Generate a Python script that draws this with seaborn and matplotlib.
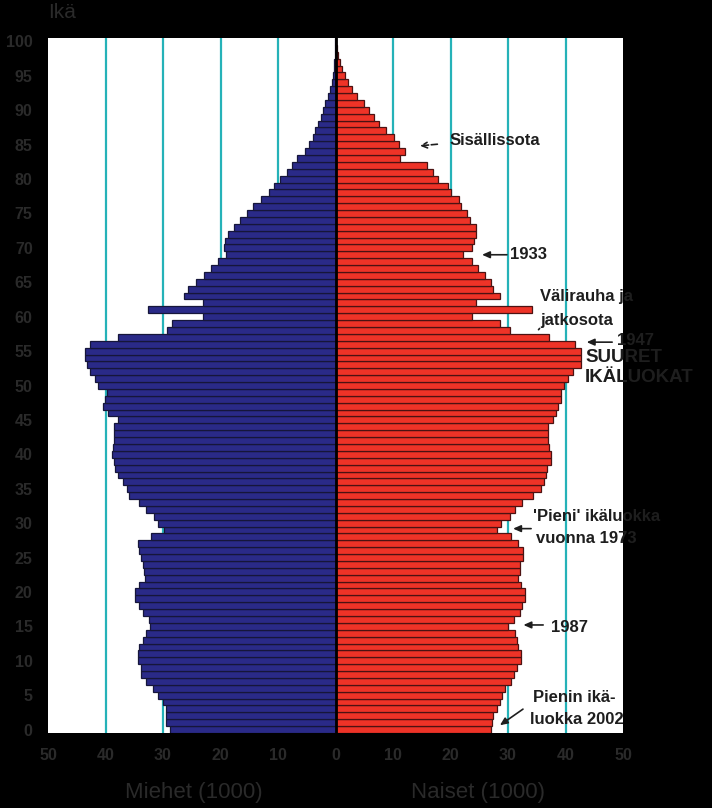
import numpy as np
import pandas as pd
import matplotlib
matplotlib.use("Agg")
import matplotlib.pyplot as plt
import seaborn as sns

# ---------------- data (thousands of persons, age 0..100) ----------------
ages = list(range(0, 101))
men = [28.8, 29.4, 29.4, 29.4, 30.0, 30.9, 31.7, 32.9, 33.8, 33.8,
       34.4, 34.4, 34.1, 33.5, 32.9, 32.3, 32.5, 33.5, 34.1, 34.9,
       34.9, 34.1, 33.2, 33.3, 33.5, 33.8, 34.2, 34.3, 32.1, 29.8,
       30.9, 31.5, 32.9, 34.1, 36.0, 36.2, 36.9, 37.8, 38.3, 38.6,
       38.9, 38.7, 38.6, 38.6, 38.6, 37.8, 39.5, 40.4, 40.1, 39.8,
       41.3, 41.8, 42.7, 43.3, 43.6, 43.6, 42.7, 37.8, 29.3, 28.5,
       23.1, 32.6, 23.1, 26.3, 25.6, 24.3, 22.8, 21.7, 20.5, 19.1,
       19.4, 19.2, 18.7, 17.6, 16.6, 15.4, 14.4, 12.9, 11.6, 10.7,
       9.7, 8.4, 7.6, 6.7, 5.3, 4.6, 4.0, 3.5, 3.1, 2.6,
       2.2, 1.8, 1.3, 0.9, 0.6, 0.4, 0.3, 0.2, 0.1, 0.05, 0.05]
women = [27.0, 27.2, 27.4, 28.0, 28.6, 29.0, 29.4, 30.6, 31.0, 31.5,
         32.3, 32.3, 31.7, 31.5, 31.2, 30.0, 31.0, 32.0, 32.4, 32.9,
         32.9, 32.3, 31.7, 32.0, 32.0, 32.6, 32.6, 31.7, 30.6, 28.0,
         28.8, 30.3, 31.2, 32.5, 34.3, 35.8, 36.2, 36.6, 36.8, 37.5,
         37.5, 37.2, 36.9, 36.9, 36.9, 37.8, 38.3, 38.7, 39.2, 39.2,
         39.8, 40.4, 41.3, 42.7, 42.7, 42.7, 41.6, 37.2, 30.3, 28.6,
         23.7, 34.1, 24.5, 28.6, 27.4, 27.0, 26.0, 24.8, 23.7, 22.2,
         23.7, 24.0, 24.5, 24.5, 23.4, 22.8, 21.9, 21.4, 20.0, 19.6,
         17.9, 17.0, 15.9, 11.3, 12.1, 11.0, 10.1, 8.7, 7.5, 6.7,
         5.8, 4.9, 3.7, 2.9, 2.1, 1.7, 1.1, 0.7, 0.4, 0.2, 0.1]

y_ticks = list(range(0, 101, 5))
x_ticks = [-50, -40, -30, -20, -10, 0, 10, 20, 30, 40, 50]
x_tick_labels = ["50", "40", "30", "20", "10", "0", "10", "20", "30", "40", "50"]
grid_vals = [-40, -30, -20, -10, 10, 20, 30, 40]

# ---------------- styling ----------------
TXT = "#2a2a2a"
ANN = "#1e1e1e"
FAM = ["Liberation Sans", "DejaVu Sans"]
plt.rcParams["font.family"] = FAM

fig = plt.figure(figsize=(7.12, 8.08), dpi=100, facecolor="black")
ax = fig.add_axes([48 / 712, 75 / 808, 575 / 712, 695 / 808])
ax.set_facecolor("white")

df_m = pd.DataFrame({"age": ages, "value": [-v for v in men]})
df_w = pd.DataFrame({"age": ages, "value": women})

for gv in grid_vals:
    ax.axvline(gv, color="#25b2b8", lw=1.6, zorder=0)

sns.barplot(data=df_m, x="value", y="age", orient="h", native_scale=True,
            width=1.0, color="#2a2a88", saturation=1, edgecolor="#16163a",
            linewidth=0.9, errorbar=None, ax=ax, zorder=2)
sns.barplot(data=df_w, x="value", y="age", orient="h", native_scale=True,
            width=1.0, color="#ee3327", saturation=1, edgecolor="#4c1212",
            linewidth=0.9, errorbar=None, ax=ax, zorder=2)

ax.axvline(0, color="black", lw=2.0, zorder=3)

ax.set_xlim(-50, 50)
ax.set_ylim(-0.5, 100.5)
for s in ax.spines.values():
    s.set_visible(False)
ax.set_xticks(x_ticks)
ax.set_xticklabels(x_tick_labels)
ax.set_yticks(y_ticks)
ax.set_yticklabels([str(t) for t in y_ticks])
ax.tick_params(axis="both", length=0, colors=TXT, labelsize=11.5)
ax.tick_params(axis="y", pad=11)
ax.tick_params(axis="x", pad=11)
for lab in ax.get_xticklabels() + ax.get_yticklabels():
    lab.set_fontweight("bold")
ax.set_xlabel("")
ax.set_ylabel("")

# axis titles
ax.text(-24.6, -0.085, "Miehet (1000)", transform=ax.get_xaxis_transform(),
        ha="center", va="center", color=TXT, fontsize=16)
ax.text(24.8, -0.085, "Naiset (1000)", transform=ax.get_xaxis_transform(),
        ha="center", va="center", color=TXT, fontsize=16)
fig.text(48 / 712, 1 - 13 / 808, "Ikä", ha="left", va="center", color=TXT, fontsize=15)

# annotations
afs = 12
akw = dict(color=ANN, fontsize=afs, fontweight="bold", va="center", ha="left", zorder=5)
head = dict(arrowstyle="-|>,head_length=0.45,head_width=0.2", color=ANN, lw=1.2)

ax.text(19.9, 85.6, "Sisällissota", **akw)
ax.annotate("", xy=(14.2, 84.8), xytext=(18.2, 85.1),
            arrowprops=dict(arrowstyle="->", color=ANN, lw=1.2, linestyle="--"))

ax.text(30.4, 69.0, "1933", **akw)
ax.annotate("", xy=(25.0, 69.0), xytext=(30.3, 69.0), arrowprops=head)

ax.text(35.6, 63.0, "Välirauha ja", **akw)
ax.text(35.6, 59.4, "jatkosota", **akw)
ax.annotate("", xy=(35.0, 57.8), xytext=(35.8, 58.6),
            arrowprops=dict(arrowstyle="-", color=ANN, lw=1.2))

ax.annotate("", xy=(43.2, 56.3), xytext=(48.6, 56.3), arrowprops=head)
ax.text(49.0, 56.6, "1947", **akw)
ax.text(43.4, 54.0, "SUURET", **{**akw, "fontsize": 13.5})
ax.text(43.4, 51.1, "IKÄLUOKAT", **{**akw, "fontsize": 13.5})

ax.text(34.3, 30.9, "'Pieni' ikäluokka", **akw)
ax.text(34.9, 27.8, "vuonna 1973", **akw)
ax.annotate("", xy=(30.4, 29.2), xytext=(34.5, 29.2), arrowprops=head)

ax.text(37.4, 14.9, "1987", **akw)
ax.annotate("", xy=(32.2, 15.2), xytext=(36.6, 15.2), arrowprops=head)

ax.text(34.3, 4.7, "Pienin ikä-", **akw)
ax.text(33.9, 1.4, "luokka 2002", **akw)
ax.annotate("", xy=(28.2, 0.4), xytext=(33.0, 3.2), arrowprops=head)

fig.savefig("out.png", dpi=100, facecolor="black")
